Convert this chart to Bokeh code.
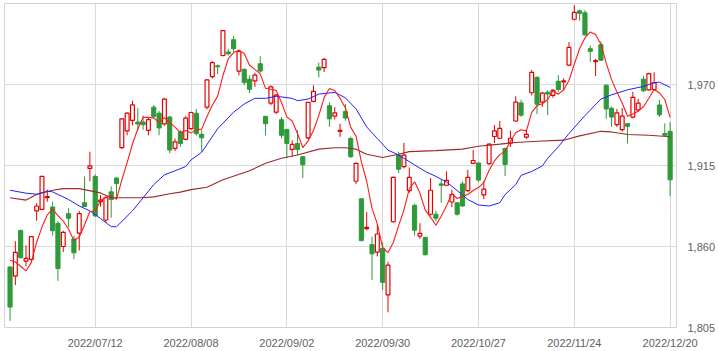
from bokeh.plotting import figure
from bokeh.models import ColumnDataSource, FixedTicker, Range1d, NumeralTickFormatter
from bokeh.embed import file_html
from bokeh.resources import INLINE

# Tick labels (trading-day index -> date label)
tick_index = [16, 34, 52, 70, 88, 106, 124]
tick_labels = ["2022/07/12", "2022/08/08", "2022/09/02", "2022/09/30",
               "2022/10/27", "2022/11/24", "2022/12/20"]
y_ticks = [1805, 1860, 1915, 1970]

opens = [1846.1, 1839.9, 1870.9, 1850.1, 1851.3, 1884.2, 1885.2, 1893.2, 1886.8, 1875.6,
         1860.0, 1882.3, 1865.1, 1869.1, 1889.7, 1913.0, 1907.6, 1890.5, 1878.0, 1897.1,
         1906.5, 1927.1, 1938.5, 1945.6, 1944.5, 1944.5, 1938.9, 1954.6, 1950.5, 1943.2,
         1947.9, 1926.6, 1937.8, 1932.8, 1940.0, 1950.5, 1936.2, 1954.6, 1975.4, 1982.7,
         1989.7, 1992.1, 2000.4, 1979.1, 1980.3, 1973.6, 1972.4, 1984.1, 1948.3, 1957.3,
         1951.2, 1946.1, 1939.4, 1925.9, 1930.0, 1921.0, 1933.8, 1958.6, 1981.8, 1981.4,
         1955.6, 1948.5, 1938.2, 1951.6, 1933.3, 1904.3, 1892.4, 1872.2, 1861.3, 1856.2,
         1858.8, 1827.1, 1876.8, 1922.1, 1914.3, 1898.0, 1887.9, 1867.1, 1866.2, 1881.9,
         1881.9, 1902.5, 1901.6, 1890.2, 1889.7, 1902.5, 1898.0, 1916.5, 1916.7, 1895.1,
         1916.3, 1934.7, 1933.5, 1926.6, 1930.2, 1945.2, 1957.5, 1934.2, 1964.4, 1974.9,
         1958.1, 1964.8, 1962.6, 1972.2, 1971.8, 1983.1, 2014.3, 2020.0, 2018.7, 1994.3,
         1985.6, 1997.0, 1969.5, 1953.9, 1942.7, 1939.3, 1943.4, 1947.9, 1952.8, 1973.6,
         1966.4, 1966.6, 1956.1, 1936.7, 1938.2]

highs = [1846.5, 1863.6, 1871.5, 1860.7, 1867.0, 1889.5, 1907.6, 1898.6, 1890.4, 1877.4,
         1870.7, 1885.9, 1867.4, 1884.2, 1907.6, 1924.4, 1909.0, 1895.0, 1894.0, 1900.9,
         1907.0, 1947.0, 1951.0, 1959.0, 1953.9, 1948.9, 1947.4, 1956.1, 1952.1, 1961.0,
         1948.7, 1933.3, 1938.9, 1948.7, 1951.5, 1953.4, 1938.9, 1973.5, 1985.8, 1983.6,
         2007.0, 1994.1, 2003.1, 1993.7, 1981.0, 1976.2, 1978.0, 1989.2, 1948.9, 1969.5,
         1963.5, 1948.0, 1940.0, 1932.2, 1938.9, 1921.5, 1958.0, 1969.5, 1984.8, 1988.0,
         1957.9, 1954.6, 1943.4, 1956.8, 1934.6, 1917.0, 1892.5, 1883.5, 1866.7, 1875.2,
         1862.7, 1849.5, 1907.5, 1924.4, 1930.4, 1913.7, 1889.0, 1875.8, 1866.5, 1906.5,
         1884.2, 1905.3, 1911.0, 1898.6, 1890.0, 1904.3, 1912.0, 1925.5, 1917.0, 1904.5,
         1930.0, 1942.5, 1945.2, 1927.0, 1938.7, 1962.0, 1959.7, 1939.5, 1979.8, 1975.5,
         1965.0, 1966.0, 1967.0, 1976.4, 1974.2, 1998.8, 2023.9, 2021.0, 2020.5, 1996.6,
         1987.4, 1999.2, 1970.0, 1955.0, 1953.4, 1954.1, 1943.5, 1965.0, 1960.4, 1976.0,
         1978.0, 1978.3, 1959.7, 1943.6, 1944.5]

lows = [1809.5, 1833.8, 1852.0, 1846.6, 1850.0, 1877.4, 1885.0, 1890.4, 1867.4, 1836.7,
        1856.2, 1872.9, 1851.3, 1857.3, 1886.8, 1904.3, 1880.0, 1887.0, 1876.0, 1879.7,
        1893.1, 1926.3, 1935.5, 1942.2, 1938.9, 1939.3, 1935.5, 1946.7, 1935.5, 1942.0,
        1923.3, 1924.8, 1927.7, 1932.0, 1939.5, 1935.3, 1924.4, 1953.0, 1974.0, 1976.9,
        1989.0, 1989.7, 1991.9, 1976.2, 1969.5, 1964.2, 1968.4, 1978.0, 1935.5, 1956.0,
        1950.0, 1933.3, 1919.9, 1921.0, 1922.1, 1906.5, 1932.6, 1958.0, 1974.7, 1978.4,
        1941.2, 1946.3, 1934.5, 1945.4, 1920.0, 1902.5, 1863.5, 1871.1, 1837.2, 1853.3,
        1830.5, 1815.3, 1876.0, 1909.8, 1913.0, 1896.4, 1867.4, 1865.1, 1854.0, 1881.0,
        1877.0, 1889.7, 1901.0, 1886.8, 1881.0, 1887.0, 1897.0, 1916.0, 1904.0, 1892.2,
        1915.5, 1930.2, 1933.0, 1907.8, 1927.5, 1944.5, 1948.0, 1933.0, 1962.6, 1949.9,
        1954.8, 1949.2, 1961.0, 1965.0, 1966.0, 1982.5, 2013.5, 2013.3, 2003.0, 1985.4,
        1975.8, 1986.0, 1946.7, 1941.2, 1941.2, 1938.0, 1930.0, 1947.0, 1951.5, 1965.0,
        1966.0, 1966.0, 1948.0, 1935.0, 1894.2]

closes = [1818.9, 1856.0, 1852.4, 1851.9, 1866.7, 1887.5, 1907.6, 1893.8, 1870.7, 1845.0,
          1869.6, 1879.2, 1855.7, 1882.3, 1887.2, 1914.7, 1880.8, 1891.5, 1893.1, 1891.9,
          1902.7, 1946.7, 1950.5, 1956.1, 1943.2, 1942.7, 1946.1, 1948.3, 1940.5, 1960.1,
          1925.5, 1931.1, 1930.0, 1947.2, 1951.0, 1936.6, 1933.8, 1973.1, 1984.8, 1982.0,
          2006.6, 1990.8, 1994.3, 1992.5, 1971.3, 1966.8, 1976.4, 1979.1, 1943.4, 1968.4,
          1962.8, 1935.5, 1930.0, 1929.3, 1925.9, 1915.5, 1957.9, 1965.3, 1979.8, 1987.0,
          1946.7, 1950.8, 1938.8, 1947.2, 1921.0, 1916.5, 1864.0, 1873.0, 1855.0, 1868.5,
          1835.6, 1847.3, 1907.0, 1912.5, 1922.1, 1907.0, 1871.1, 1868.9, 1854.4, 1898.2,
          1879.2, 1901.6, 1904.9, 1895.3, 1881.9, 1887.5, 1907.0, 1918.4, 1905.1, 1898.9,
          1929.5, 1938.5, 1940.2, 1915.7, 1933.5, 1958.1, 1949.2, 1936.2, 1978.3, 1956.6,
          1964.2, 1963.5, 1966.0, 1966.6, 1972.4, 1995.2, 2019.0, 2018.3, 2003.7, 1992.5,
          1986.2, 1986.5, 1953.4, 1947.9, 1950.8, 1948.5, 1941.6, 1961.3, 1957.3, 1965.7,
          1977.4, 1971.1, 1949.4, 1935.5, 1905.3]

# 5-day moving average (red), one value per candle
ma5 = [1850.6, 1849.5, 1846.6, 1843.4, 1849.2, 1862.9, 1873.2, 1881.5, 1885.3, 1880.9,
       1877.3, 1871.7, 1864.0, 1866.4, 1874.8, 1883.8, 1884.1, 1891.3, 1893.5, 1894.4,
       1892.0, 1905.2, 1917.0, 1929.6, 1939.8, 1947.8, 1947.7, 1947.3, 1944.2, 1947.5,
       1944.1, 1941.1, 1937.4, 1938.8, 1937.0, 1939.2, 1939.7, 1948.3, 1955.9, 1962.1,
       1976.1, 1987.5, 1991.7, 1993.2, 1991.1, 1983.1, 1980.3, 1977.2, 1967.4, 1966.8,
       1966.0, 1957.8, 1948.0, 1945.2, 1936.7, 1927.2, 1931.7, 1938.8, 1948.9, 1961.1,
       1967.3, 1965.9, 1960.6, 1954.1, 1940.9, 1934.9, 1917.5, 1904.3, 1885.9, 1875.4,
       1859.2, 1855.9, 1862.7, 1874.2, 1884.9, 1899.2, 1903.9, 1896.3, 1884.7, 1879.9,
       1874.4, 1880.5, 1887.7, 1895.8, 1892.6, 1894.2, 1895.3, 1898.0, 1900.0, 1903.4,
       1911.8, 1918.1, 1922.4, 1924.6, 1931.5, 1937.2, 1939.3, 1938.5, 1951.1, 1955.7,
       1956.9, 1959.8, 1965.7, 1963.4, 1966.5, 1972.7, 1983.8, 1994.3, 2001.7, 2005.7,
       2003.9, 1997.4, 1984.5, 1973.3, 1965.0, 1957.4, 1948.4, 1950.0, 1951.9, 1954.9,
       1960.7, 1966.6, 1964.2, 1959.8, 1947.7]

# 25-day moving average (blue), read at selected candles
ma25_idx = [0, 3, 5, 7, 8, 11, 13, 15, 17, 19, 20, 23, 25, 27, 29, 31, 33, 34, 36, 39,
            42, 44, 46, 48, 50, 53, 54, 56, 58, 61, 63, 65, 67, 69, 71, 73, 76, 78, 80, 82,
            84, 86, 88, 90, 92, 93, 94, 95, 96, 98, 100, 101, 103, 105, 108, 111, 113, 116,
            119, 121, 122, 124]
ma25 = [1898.2, 1896.2, 1895.5, 1897.6, 1897.1, 1891.9, 1887.5, 1884.2, 1879.0, 1873.5,
        1873.4, 1884.2, 1893.1, 1902.0, 1908.7, 1911.4, 1914.3, 1918.8, 1923.9, 1940.0,
        1951.2, 1956.8, 1960.6, 1960.6, 1962.0, 1960.6, 1959.0, 1960.1, 1963.5, 1964.6,
        1961.0, 1953.4, 1941.2, 1933.3, 1925.5, 1922.1, 1915.4, 1911.0, 1907.6, 1903.8,
        1898.0, 1891.9, 1888.2, 1887.5, 1889.7, 1895.3, 1898.6, 1902.0, 1908.3, 1911.0,
        1914.7, 1919.9, 1927.7, 1936.7, 1948.9, 1960.1, 1963.0, 1966.4, 1968.7, 1971.3,
        1971.6, 1968.0]

# 75-day moving average (brown), read at selected candles
ma75_idx = [0, 3, 5, 8, 10, 13, 17, 19, 22, 25, 27, 30, 32, 34, 37, 40, 45, 48, 51, 54,
            58, 61, 63, 65, 67, 70, 73, 75, 80, 85, 88, 92, 95, 99, 104, 107, 111, 113, 116,
            120, 124]
ma75 = [1893.1, 1891.5, 1895.3, 1898.2, 1899.3, 1899.3, 1896.4, 1893.1, 1893.1, 1893.1,
        1893.7, 1895.8, 1896.9, 1898.6, 1900.2, 1905.3, 1911.4, 1916.5, 1919.9, 1922.1,
        1926.1, 1927.1, 1927.1, 1926.1, 1922.6, 1920.4, 1922.6, 1924.4, 1925.1, 1926.1,
        1928.1, 1929.5, 1930.6, 1931.5, 1932.2, 1935.1, 1938.2, 1937.8, 1936.0, 1935.5,
        1934.5]

UP = "#e60000"
DOWN = "#2e9a3a"

n = len(closes)
idx = list(range(n))
is_up = [c >= o for o, c in zip(opens, closes)]


def subset(flag):
    sel = [i for i in idx if is_up[i] == flag]
    return ColumnDataSource(dict(
        x=sel,
        high=[highs[i] for i in sel],
        low=[lows[i] for i in sel],
        top=[max(opens[i], closes[i]) for i in sel],
        bottom=[min(opens[i], closes[i]) for i in sel],
    ))


src_up = subset(True)
src_down = subset(False)

p = figure(width=718, height=351, output_backend="svg", toolbar_location=None,
           x_range=Range1d(-1.04, 125.2), y_range=Range1d(1805, 2025),
           y_axis_location="right",
           min_border_left=4, min_border_right=35, min_border_top=3, min_border_bottom=19)

p.background_fill_color = "white"
p.border_fill_color = "white"
p.outline_line_color = "#d4d4d4"
p.outline_line_width = 1

p.xgrid.ticker = FixedTicker(ticks=tick_index)
p.ygrid.ticker = FixedTicker(ticks=y_ticks[1:])
p.xgrid.grid_line_color = "#dadada"
p.ygrid.grid_line_color = "#dadada"

p.xaxis.ticker = FixedTicker(ticks=tick_index)
p.xaxis.major_label_overrides = {t: lab for t, lab in zip(tick_index, tick_labels)}
p.yaxis.ticker = FixedTicker(ticks=y_ticks)
p.yaxis.formatter = NumeralTickFormatter(format="0,0")
for ax in (p.xaxis, p.yaxis):
    ax.axis_line_color = None
    ax.major_tick_line_color = None
    ax.minor_tick_line_color = None
    ax.major_label_text_font = "Liberation Sans"
    ax.major_label_text_font_size = "11px"
    ax.major_label_text_color = "#5f5f5f"
p.xaxis.major_label_standoff = 3
p.yaxis.major_label_standoff = 5
p.yaxis.major_label_text_baseline = "bottom"

# wicks
p.segment(x0="x", y0="low", x1="x", y1="high", source=src_down, line_color=DOWN, line_width=1)
p.segment(x0="x", y0="low", x1="x", y1="high", source=src_up, line_color=UP, line_width=1)
# bodies
p.vbar(x="x", width=0.78, top="top", bottom="bottom", source=src_down,
       fill_color=DOWN, line_color=DOWN, line_width=1)
p.vbar(x="x", width=0.72, top="top", bottom="bottom", source=src_up,
       fill_color="white", line_color=UP, line_width=1.2)

# moving averages
p.line(ma75_idx, ma75, line_color="#9e2a2a", line_width=1.1)
p.line(ma25_idx, ma25, line_color="#2020ff", line_width=1.0)
p.line(idx, ma5, line_color="#ff1a1a", line_width=1.1)

open("out.html", "w").write(file_html(p, INLINE))
